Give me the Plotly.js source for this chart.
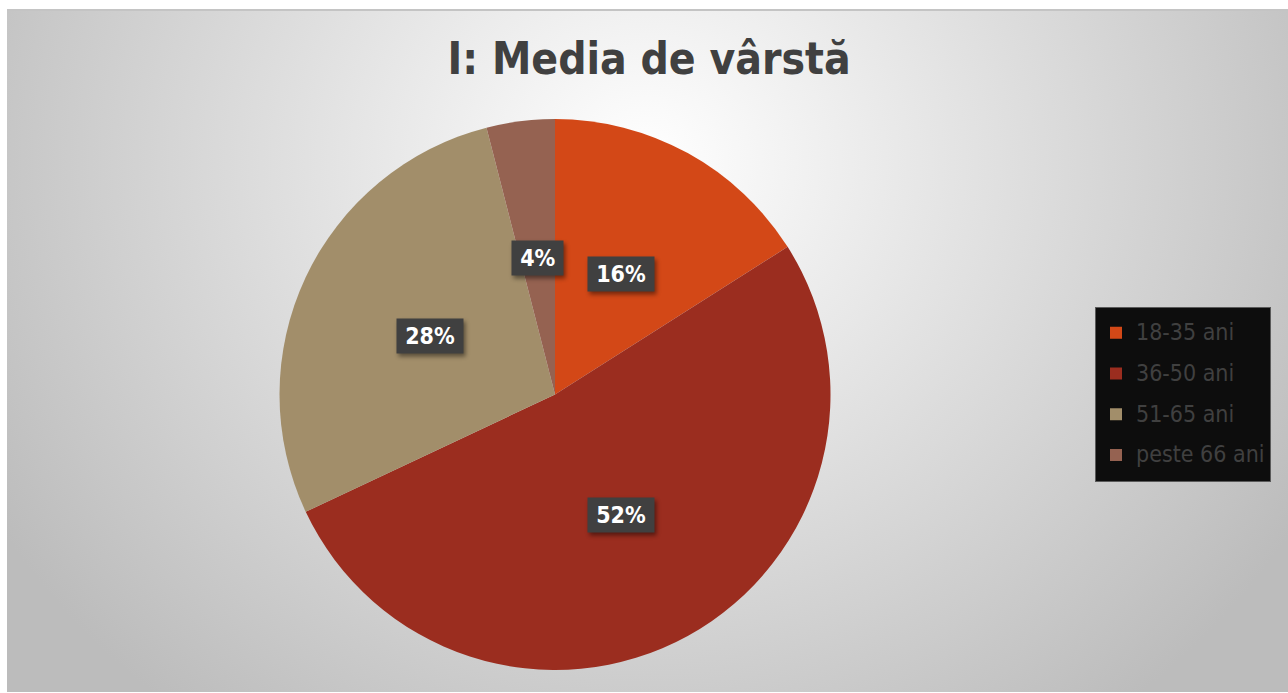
<!DOCTYPE html>
<html>
<head>
<meta charset="utf-8">
<script src="https://cdn.plot.ly/plotly-3.0.1.min.js"></script>
<style>
  html, body { margin: 0; padding: 0; background: #ffffff; width: 1288px; height: 693px; overflow: hidden; }
  #bg {
    position: absolute; left: 7px; top: 9px; width: 1281px; height: 683px;
    border-top: 2px solid #c4c4c4; box-sizing: border-box;
    background: radial-gradient(ellipse 760px 700px at 640px 150px, #ffffff 0%, #bcbcbc 100%);
  }
  #chart { position: absolute; left: 0; top: 0; width: 1288px; height: 693px; }
  .annotation-text-g rect.bg { filter: drop-shadow(2px 3px 2px rgba(0,0,0,0.45)); }
</style>
</head>
<body>
<div id="bg"></div>
<div id="chart"></div>
<script>
// ---- data ----
const chartTitle = 'I: Media de vârstă';
const categories = ['18-35 ani', '36-50 ani', '51-65 ani', 'peste 66 ani'];
const shares = [16, 52, 28, 4];
const sliceColors = ['#D34817', '#9B2D1F', '#A28E6A', '#956251'];

// ---- layout constants ----
const W = 1288, H = 693;
const domX = [0.2170, 0.6448];
const domY = [0.0332, 0.8283];
const labelFont = 'DejaVu Sans Condensed, DejaVu Sans, sans-serif';

const total = shares.reduce((a, b) => a + b, 0);

// label positions derived from the data (mid-angle of each slice, at half radius)
const cx = (domX[0] + domX[1]) / 2, cy = (domY[0] + domY[1]) / 2;
const R = Math.min((domX[1] - domX[0]) * W, (domY[1] - domY[0]) * H) / 2;
let cum = 0;
const annotations = shares.map((v) => {
  const mid = (cum + v / 2) / total * 2 * Math.PI;
  cum += v;
  return {
    xref: 'paper', yref: 'paper',
    x: cx + 0.5 * R * Math.sin(mid) / W,
    y: cy + 0.5 * R * Math.cos(mid) / H,
    text: '\u2009' + Math.round(v / total * 100) + '%\u2009',
    showarrow: false,
    font: { family: labelFont, size: 23, color: '#ffffff', weight: 'bold' },
    bgcolor: '#404040',
    borderpad: 4,
    xanchor: 'center', yanchor: 'middle'
  };
});

const trace = {
  type: 'pie',
  labels: categories.map(c => '<span style="font-size:23px;baseline-shift:4px">' + c + '</span>'),
  values: shares,
  sort: false,
  direction: 'clockwise',
  rotation: 0,
  textinfo: 'none',
  hoverinfo: 'label+percent',
  marker: { colors: sliceColors, line: { width: 0 } },
  domain: { x: domX, y: domY }
};

const layout = {
  width: W, height: H,
  margin: { l: 0, r: 0, t: 0, b: 0 },
  paper_bgcolor: 'rgba(0,0,0,0)',
  plot_bgcolor: 'rgba(0,0,0,0)',
  title: {
    text: '<b>' + chartTitle + '</b>',
    font: { family: labelFont, size: 44, color: '#404040' },
    x: 0.504, xanchor: 'center',
    y: 1 - 59 / H, yanchor: 'middle', yref: 'container'
  },
  showlegend: true,
  legend: {
    x: 1095 / W, xanchor: 'left',
    y: 1 - 394 / H, yanchor: 'middle',
    bgcolor: '#0d0d0d',
    bordercolor: '#5a5a5a', borderwidth: 1,
    font: { family: labelFont, size: 29, color: '#404040' }
  },
  annotations: annotations
};

Plotly.newPlot('chart', [trace], layout, { displayModeBar: false, staticPlot: true });
</script>
</body>
</html>
